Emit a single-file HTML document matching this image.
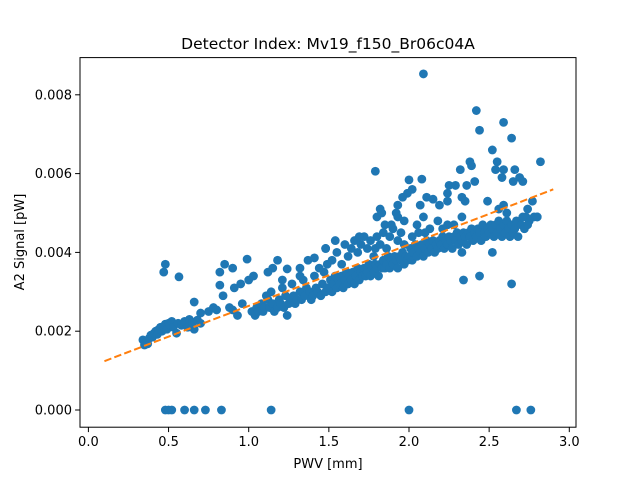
<!DOCTYPE html>
<html><head><meta charset="utf-8"><style>
body{margin:0;background:#fff}
svg{display:block;font-family:"DejaVu Sans","Liberation Sans",sans-serif}
</style></head><body>
<svg id="chart" width="640" height="480" viewBox="0 0 640 480" xmlns="http://www.w3.org/2000/svg">
<rect width="640" height="480" fill="#fff"/>
<text x="328" y="49" font-size="15.5" text-anchor="middle">Detector Index: Mv19_f150_Br06c04A</text>
<text x="328" y="468" font-size="13" text-anchor="middle">PWV [mm]</text>
<text x="0" y="0" font-size="13" text-anchor="middle" transform="translate(24,242) rotate(-90)">A2 Signal [pW]</text>
<g id="marks"></g>
<g id="axes"></g>
</svg>
<script>
const xTicks=[0,0.5,1,1.5,2,2.5,3];
const xTickLabels=["0.0","0.5","1.0","1.5","2.0","2.5","3.0"];
const yTicks=[0,0.002,0.004,0.006,0.008];
const yTickLabels=["0.000","0.002","0.004","0.006","0.008"];
const fitX=[0.1,2.9];
const fitY=[0.00124,0.0056];
const pwv=[
0.48,0.50,0.52,0.60,0.66,0.73,0.83,1.14,2.0,2.67,2.76,
0.34,0.35,0.36,0.37,0.38,0.39,0.40,0.41,0.42,0.43,0.44,0.45,0.46,0.47,0.48,0.49,0.50,0.51,0.52,0.53,0.55,0.56,0.58,0.60,0.62,0.63,0.65,0.66,0.68,0.70,0.70,0.66,
0.47,0.48,0.565,
0.75,0.78,0.80,0.82,0.85,0.90,0.99,0.82,0.84,0.91,0.95,1.0,1.03,0.90,0.93,0.96,0.88,
1.02,1.04,1.05,1.06,1.08,1.09,1.10,1.12,1.13,1.15,1.16,1.18,1.19,1.20,1.22,1.23,1.25,1.26,1.28,1.29,1.30,1.32,1.33,1.35,1.36,1.38,1.39,1.40,1.42,1.43,1.45,1.46,1.48,1.49,1.11,1.14,1.21,1.27,1.34,1.41,1.47,1.24,
1.12,1.18,1.15,1.24,1.21,1.32,1.32,1.37,1.41,1.44,1.48,1.49,
1.50,1.51,1.52,1.53,1.54,1.55,1.56,1.57,1.58,1.59,1.60,1.61,1.62,1.63,1.64,1.65,1.66,1.67,1.68,1.69,1.70,1.71,1.72,1.73,1.74,1.75,1.76,1.77,1.78,1.79,1.80,1.81,1.82,1.83,1.84,1.85,1.86,1.87,1.88,1.89,1.90,1.91,1.92,1.93,1.94,1.95,1.96,1.97,1.98,1.99,
1.52,1.55,1.58,1.60,1.62,1.64,1.66,1.68,1.70,1.72,1.74,1.76,1.78,1.79,1.80,1.82,1.84,1.86,1.88,1.69,1.54,1.48,1.93,1.80,1.82,1.79,1.83,1.85,1.90,1.92,1.95,1.97,
2.00,2.01,2.02,2.03,2.04,2.05,2.06,2.07,2.08,2.09,2.10,2.11,2.12,2.13,2.14,2.15,2.16,2.17,2.18,2.19,2.20,2.21,2.22,2.23,2.24,2.25,2.26,2.27,2.28,2.29,2.30,2.31,2.32,2.33,2.34,2.35,2.36,2.37,2.38,2.39,2.40,2.41,2.42,2.43,2.44,2.45,2.46,2.47,2.48,2.49,
2.0,2.08,2.41,2.36,2.25,2.29,1.99,2.02,1.96,1.93,2.11,2.15,2.24,2.24,2.19,2.33,2.35,2.07,2.09,2.05,2.06,1.93,1.89,1.97,2.18,2.24,2.33,2.32,2.38,2.39,2.42,2.44,2.09,2.34,2.44,2.33,2.13,2.21,2.28,2.02,2.10,
2.50,2.51,2.52,2.53,2.54,2.55,2.56,2.57,2.58,2.59,2.60,2.61,2.62,2.63,2.64,2.65,2.66,2.67,2.68,2.70,2.72,2.73,2.75,2.78,2.80,2.52,2.49,2.59,2.61,2.74,2.77,2.80,2.71,2.74,2.64,2.52,2.55,2.59,2.64,2.82,2.54,2.59,2.58,2.66,2.69,2.65,2.71,2.56
];
const signal=[
0,0,0,0,0,0,0,0,0,0,0,
0.00178,0.00165,0.00172,0.00168,0.00182,0.0019,0.00185,0.00195,0.002,0.00192,0.00205,0.0021,0.002,0.00212,0.00218,0.00205,0.0022,0.00215,0.00225,0.0021,0.00195,0.0022,0.00215,0.00225,0.0021,0.0023,0.00222,0.00205,0.00228,0.0022,0.00246,0.00274,
0.0035,0.0037,0.00338,
0.0025,0.0026,0.00254,0.0035,0.0037,0.0036,0.00383,0.00317,0.0029,0.0031,0.0032,0.0033,0.0034,0.00254,0.0024,0.0027,0.0026,
0.0025,0.0024,0.0026,0.0025,0.0027,0.0025,0.0026,0.0028,0.0026,0.0027,0.0025,0.0026,0.0028,0.0027,0.0026,0.0029,0.0027,0.0028,0.0029,0.0027,0.0028,0.003,0.0028,0.0029,0.0031,0.003,0.0028,0.0029,0.0031,0.003,0.0029,0.0032,0.003,0.0031,0.0029,0.003,0.0031,0.0032,0.0033,0.0034,0.0035,0.0024,
0.0035,0.0038,0.0036,0.00358,0.0033,0.0036,0.0034,0.0038,0.00386,0.0036,0.0041,0.0037,
0.0031,0.0033,0.003,0.0032,0.0034,0.0031,0.0033,0.0032,0.0034,0.0031,0.0033,0.0035,0.0032,0.0034,0.0033,0.0035,0.0032,0.0034,0.0036,0.0033,0.0035,0.0034,0.0036,0.0034,0.0035,0.0037,0.0034,0.0036,0.0035,0.0037,0.0036,0.0034,0.0037,0.0036,0.0038,0.0036,0.0037,0.0039,0.0036,0.0038,0.0037,0.0039,0.0038,0.0036,0.0039,0.0038,0.004,0.0037,0.0039,0.0038,
0.0038,0.004,0.0037,0.0042,0.0039,0.0041,0.0043,0.004,0.0042,0.0044,0.0041,0.0043,0.0039,0.0041,0.0044,0.0042,0.0045,0.0041,0.0044,0.0044,0.0043,0.0041,0.0043,0.0049,0.0051,0.00606,0.005,0.0047,0.0046,0.005,0.0045,0.0042,
0.0039,0.0041,0.0038,0.004,0.0042,0.0039,0.0041,0.004,0.0042,0.0039,0.0041,0.0043,0.004,0.0042,0.0041,0.0043,0.004,0.0042,0.0041,0.0043,0.0042,0.0044,0.0041,0.0043,0.0042,0.0044,0.0043,0.0041,0.0044,0.0043,0.0045,0.0042,0.0044,0.0043,0.0045,0.0044,0.0042,0.0045,0.0044,0.0046,0.0043,0.0045,0.0044,0.0046,0.0045,0.0043,0.0047,0.0045,0.0044,0.0046,
0.00584,0.00586,0.0058,0.0057,0.0057,0.0057,0.0055,0.0056,0.0054,0.0052,0.0054,0.00535,0.0055,0.0053,0.0052,0.0054,0.0053,0.0052,0.0049,0.0047,0.0045,0.0049,0.0047,0.0048,0.0048,0.0047,0.0049,0.0061,0.0063,0.0062,0.0076,0.0071,0.00853,0.0033,0.0034,0.004,0.0046,0.0046,0.0047,0.0044,0.0045,
0.0045,0.0047,0.0046,0.0044,0.0047,0.0045,0.0048,0.0046,0.0044,0.0047,0.0045,0.0048,0.0046,0.0044,0.0047,0.0045,0.0046,0.0048,0.0044,0.0047,0.0046,0.0049,0.0048,0.0049,0.0049,0.004,0.0053,0.0052,0.005,0.0051,0.0053,0.0049,0.0049,0.0047,0.0032,0.0066,0.0063,0.0073,0.0069,0.0063,0.0061,0.0061,0.0059,0.0061,0.0059,0.0058,0.0058,0.0051
];
const NS="http://www.w3.org/2000/svg";
const L=80,R=576,T=57.6,B=427.2;
function xs(v){return 88.4+v*160.3;}
function ys(v){return 410-v*39400;}
const marks=document.getElementById('marks');
const axes=document.getElementById('axes');
for(let i=0;i<pwv.length;i++){
  const c=document.createElementNS(NS,'circle');
  c.setAttribute('cx',xs(pwv[i]));c.setAttribute('cy',ys(signal[i]));
  c.setAttribute('r',4.4);c.setAttribute('fill','#1f77b4');
  
  
  marks.appendChild(c);
}
const fl=document.createElementNS(NS,'line');
fl.setAttribute('x1',xs(fitX[0]));fl.setAttribute('y1',ys(fitY[0]));
fl.setAttribute('x2',xs(fitX[1]));fl.setAttribute('y2',ys(fitY[1]));
fl.setAttribute('stroke','#ff7f0e');fl.setAttribute('stroke-width',2);
fl.setAttribute('stroke-dasharray','7.4,3.2');


marks.appendChild(fl);
const fr=document.createElementNS(NS,'rect');
fr.setAttribute('x',L);fr.setAttribute('y',T);fr.setAttribute('width',R-L);fr.setAttribute('height',B-T);
fr.setAttribute('fill','none');fr.setAttribute('stroke','#000');fr.setAttribute('stroke-width',1);


axes.appendChild(fr);
xTicks.forEach((t,i)=>{
  const x=xs(t);
  const l=document.createElementNS(NS,'line');
  l.setAttribute('x1',x);l.setAttribute('x2',x);l.setAttribute('y1',B);l.setAttribute('y2',B+4.9);l.setAttribute('stroke','#000');
  
  
  axes.appendChild(l);
  const tx=document.createElementNS(NS,'text');
  tx.setAttribute('x',x);tx.setAttribute('y',B+19);tx.setAttribute('font-size',13);tx.setAttribute('text-anchor','middle');
  tx.textContent=xTickLabels[i];
  
  
  axes.appendChild(tx);
});
yTicks.forEach((t,i)=>{
  const y=ys(t);
  const l=document.createElementNS(NS,'line');
  l.setAttribute('x1',L-4.9);l.setAttribute('x2',L);l.setAttribute('y1',y);l.setAttribute('y2',y);l.setAttribute('stroke','#000');
  
  
  axes.appendChild(l);
  const tx=document.createElementNS(NS,'text');
  tx.setAttribute('x',L-8);tx.setAttribute('y',y+4.5);tx.setAttribute('font-size',13);tx.setAttribute('text-anchor','end');
  tx.textContent=yTickLabels[i];
  
  
  axes.appendChild(tx);
});
</script>
</body></html>
